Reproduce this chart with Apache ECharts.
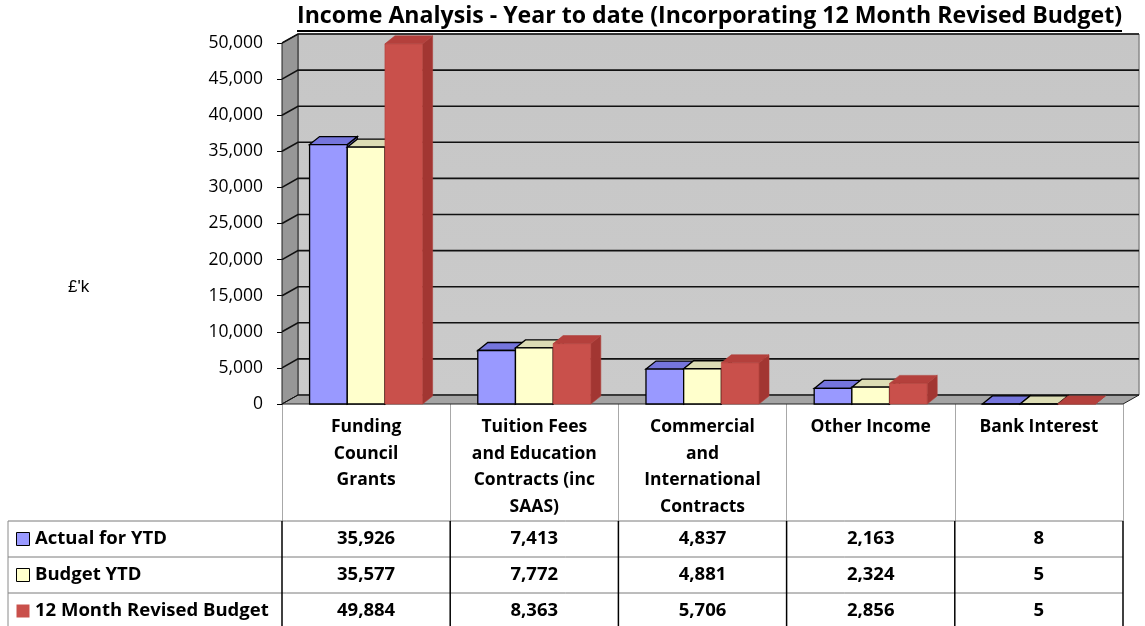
<!DOCTYPE html>
<html>
<head>
<meta charset="utf-8">
<script src="https://cdn.jsdelivr.net/npm/echarts@6/dist/echarts.min.js"></script>
<style>
html,body{margin:0;padding:0;background:#fff;}
#chart{width:1145px;height:626px;}
</style>
</head>
<body>
<div id="chart"></div>
<script>
// ---- data ----
const titleText = 'Income Analysis - Year to date (Incorporating 12 Month Revised Budget)';
const yAxisName = "£'k";
const categories = ['Funding Council Grants', 'Tuition Fees and Education Contracts (inc SAAS)', 'Commercial and International Contracts', 'Other Income', 'Bank Interest'];
const categoryLabels = ['Funding\nCouncil\nGrants', 'Tuition Fees\nand Education\nContracts (inc\nSAAS)', 'Commercial\nand\nInternational\nContracts', 'Other Income', 'Bank Interest'];
const seriesNames = ['Actual for YTD', 'Budget YTD', '12 Month Revised Budget'];
const actualYTD = [35926, 7413, 4837, 2163, 8];
const budgetYTD = [35577, 7772, 4881, 2324, 5];
const revisedBudget = [49884, 8363, 5706, 2856, 5];
const yTicks = [0, 5000, 10000, 15000, 20000, 25000, 30000, 35000, 40000, 45000, 50000];

// ---- styles ----
const seriesValues = [actualYTD, budgetYTD, revisedBudget];
const faceColors = [
  {front: '#9999ff', top: '#7575dc', side: '#6666c0', stroke: '#000', lw: 1.3},
  {front: '#ffffcc', top: '#dcdcb4', side: '#c8c8a0', stroke: '#000', lw: 1.3},
  {front: '#c9504b', top: '#b4403c', side: '#a23632', stroke: '#b0403b', lw: 0.6}
];
const WALL_DX = 16, WALL_DY = -9;
const BAR_DX = 10, BAR_DY = -8;
const FONT = '"Open Sans", "DejaVu Sans", sans-serif';

const fmt = v => v.toLocaleString('en-US');

const chart = echarts.init(document.getElementById('chart'), null, {renderer: 'canvas'});

function frameRender(params, api) {
  const cs = params.coordSys;
  const x0 = cs.x, x1 = cs.x + cs.width, y0 = cs.y, y1 = cs.y + cs.height;
  const dx = WALL_DX, dy = WALL_DY;
  const children = [];
  children.push({type: 'rect', shape: {x: x0 + dx, y: y0 + dy, width: cs.width, height: cs.height},
    style: {fill: {type: 'linear', x: 0, y: 0, x2: 0, y2: 1, colorStops: [{offset: 0, color: '#c6c6c6'}, {offset: 1, color: '#cbcbcb'}]}, stroke: '#8a8a8a', lineWidth: 1}});
  children.push({type: 'polygon', shape: {points: [[x0, y0], [x0 + dx, y0 + dy], [x0 + dx, y1 + dy], [x0, y1]]},
    style: {fill: '#979797', stroke: '#222', lineWidth: 1}});
  children.push({type: 'polygon', shape: {points: [[x0, y1], [x1, y1], [x1 + dx, y1 + dy], [x0 + dx, y1 + dy]]},
    style: {fill: '#a4a4a4', stroke: '#222', lineWidth: 1}});
  yTicks.forEach(t => {
    const y = api.coord([0, t])[1];
    children.push({type: 'polyline', shape: {points: [[x0, y], [x0 + dx, y + dy], [x1 + dx, y + dy]]},
      style: {fill: null, stroke: '#111', lineWidth: t === 0 ? 1 : 1.6}});
  });
  return {type: 'group', children};
}

function makeBarRender(k) {
  const c = faceColors[k];
  return function (params, api) {
    const i = api.value(0), v = api.value(1);
    const base = api.coord([i, 0]);
    const top = api.coord([i, v]);
    const catW = api.size([1, 0])[0];
    const bw = catW * 0.224;
    const xL = base[0] + (k - 1.5) * bw;
    const xR = xL + bw;
    const yB = base[1], yT = top[1];
    const dx = BAR_DX, dy = BAR_DY;
    return {type: 'group', children: [
      {type: 'polygon', shape: {points: [[xR, yT], [xR + dx, yT + dy], [xR + dx, yB + dy], [xR, yB]]},
        style: {fill: c.side, stroke: c.stroke, lineWidth: c.lw}},
      {type: 'polygon', shape: {points: [[xL, yT], [xL + dx, yT + dy], [xR + dx, yT + dy], [xR, yT]]},
        style: {fill: c.top, stroke: c.stroke, lineWidth: c.lw}},
      {type: 'rect', shape: {x: xL, y: yT, width: bw, height: Math.max(yB - yT, 0.01)},
        style: {fill: c.front, stroke: c.stroke, lineWidth: c.lw}}
    ]};
  };
}

const series = [{
  type: 'custom', name: 'frame', z: 1, silent: true,
  data: [[0, 0]], renderItem: frameRender
}];
seriesValues.forEach((vals, k) => {
  series.push({
    type: 'custom', name: seriesNames[k], z: 3 + k,
    data: vals.map((v, i) => [i, v]),
    renderItem: makeBarRender(k)
  });
});

chart.setOption({
  animation: false,
  backgroundColor: '#fff',
  grid: {left: 282, top: 43, width: 841, height: 361},
  xAxis: {
    type: 'category', data: categories,
    axisLine: {show: false},
    axisTick: {show: true, length: 117, interval: 0, lineStyle: {color: '#a8a8a8', width: 1}},
    axisLabel: {interval: 0, margin: 10, fontFamily: FONT, fontWeight: 'bold', fontSize: 17.5, color: '#000',
      lineHeight: 26.5, verticalAlign: 'top', formatter: (v, i) => categoryLabels[i]}
  },
  yAxis: {
    type: 'value', min: 0, max: 50000, interval: 5000,
    axisLine: {show: true, lineStyle: {color: '#000', width: 1}},
    axisTick: {show: true, length: 5, lineStyle: {color: '#000'}},
    splitLine: {show: false},
    axisLabel: {margin: 19, fontFamily: FONT, fontSize: 17.5, color: '#000', formatter: v => fmt(v)}
  },
  series
});

// ---- title and data table ----
const ctx = document.createElement('canvas').getContext('2d');
ctx.font = 'bold 20px ' + FONT;
const tw = ctx.measureText(titleText).width;
const titleSize = 20 * 825 / tw;

const gridL = 282, gridR = 1123, gridB = 404;
const cx = i => chart.convertToPixel({xAxisIndex: 0}, i);
const catW = cx(1) - cx(0);
const rowTop = gridB + 117, rowH = 36, tableL = 8, tableB = rowTop + 3 * rowH;

const g = [];
g.push({type: 'text', left: 297, top: 5, z: 10,
  style: {text: titleText, font: 'bold ' + titleSize.toFixed(2) + 'px ' + FONT, fill: '#000'}});
g.push({type: 'line', z: 10, shape: {x1: 297, y1: 31, x2: 1122, y2: 31}, style: {stroke: '#000', lineWidth: 2}});
g.push({type: 'text', left: 68, top: 279, z: 10,
  style: {text: yAxisName, font: '17px "Liberation Sans", Arial, sans-serif', fill: '#000'}});

for (let r = 0; r <= 3; r++) {
  const y = rowTop + r * rowH;
  g.push({type: 'line', z: 10, shape: {x1: tableL, y1: y, x2: gridR, y2: y}, style: {stroke: '#7a7a7a', lineWidth: 1}});
}
g.push({type: 'line', z: 10, shape: {x1: tableL, y1: rowTop, x2: tableL, y2: tableB}, style: {stroke: '#8a8a8a', lineWidth: 1}});
for (let i = 0; i <= categories.length; i++) {
  const x = cx(0) - catW / 2 + i * catW;
  g.push({type: 'line', z: 11, shape: {x1: x, y1: rowTop, x2: x, y2: tableB}, style: {stroke: '#000', lineWidth: 1.5}});
}
seriesNames.forEach((name, r) => {
  const yc = rowTop + r * rowH + rowH / 2;
  const c = faceColors[r];
  g.push({type: 'rect', z: 10, shape: {x: 16.5, y: yc - 6.5, width: 13, height: 13},
    style: {fill: c.front, stroke: r < 2 ? '#000' : null, lineWidth: 1}});
  g.push({type: 'text', z: 10, x: 35, y: yc,
    style: {text: name, font: 'bold 18.5px ' + FONT, fill: '#000', verticalAlign: 'middle', align: 'left'}});
  seriesValues[r].forEach((v, i) => {
    g.push({type: 'text', z: 10, x: cx(i), y: yc,
      style: {text: fmt(v), font: 'bold 18.5px ' + FONT, fill: '#000', verticalAlign: 'middle', align: 'center'}});
  });
});
chart.setOption({graphic: g});
</script>
</body>
</html>
